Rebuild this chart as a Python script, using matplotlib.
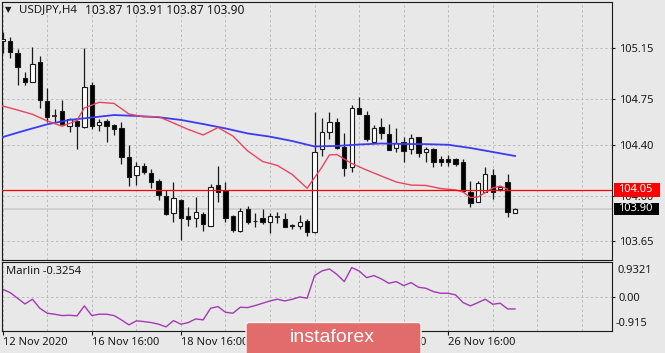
import matplotlib
matplotlib.use('Agg')
import matplotlib.pyplot as plt
from matplotlib.patches import FancyBboxPatch, Rectangle

W, H = 665, 353
BG = '#e8e8e8'
GRID = '#bcbcbc'
INK = '#1a1a1a'

plt.rcParams['font.family'] = ['Noto Sans', 'DejaVu Sans']
plt.rcParams['font.size'] = 8

# ---- data (H4 bars, oldest first) ----
opens = [105.202, 105.207, 105.109, 104.919, 104.888, 105.044, 104.741, 104.624, 104.663, 104.546,
         104.585, 104.534, 104.860, 104.554, 104.583, 104.555, 104.531, 104.301, 104.161, 104.233,
         104.181, 104.117, 104.002, 103.870, 103.972, 103.845, 103.827, 103.860, 103.769, 104.086,
         104.039, 103.845, 103.728, 103.897, 103.808, 103.827, 103.796, 103.839, 103.821, 103.772,
         103.769, 103.806, 103.718, 104.365, 104.495, 104.573, 104.383, 104.228, 104.686, 104.629,
         104.422, 104.538, 104.479, 104.371, 104.417, 104.363, 104.456, 104.344, 104.369, 104.285,
         104.285, 104.285, 104.262, 104.033, 103.956, 104.033, 104.163, 104.054, 104.107, 103.870]
highs = [105.277, 105.238, 105.140, 104.961, 105.155, 105.090, 104.837, 104.674, 104.746, 104.608,
         104.591, 105.148, 104.883, 104.601, 104.601, 104.557, 104.577, 104.396, 104.267, 104.254,
         104.207, 104.130, 104.047, 104.111, 103.974, 103.917, 103.990, 103.873, 104.093, 104.233,
         104.107, 103.852, 103.909, 103.922, 103.866, 103.897, 103.870, 103.878, 103.870, 103.783,
         103.852, 103.819, 104.655, 104.604, 104.655, 104.604, 104.492, 104.707, 104.767, 104.660,
         104.552, 104.608, 104.559, 104.526, 104.456, 104.482, 104.461, 104.383, 104.371, 104.313,
         104.319, 104.293, 104.285, 104.119, 104.119, 104.228, 104.207, 104.078, 104.171, 103.910]
lows = [105.109, 105.075, 104.862, 104.862, 104.888, 104.681, 104.573, 104.577, 104.555, 104.495,
        104.365, 104.530, 104.521, 104.505, 104.422, 104.474, 104.246, 104.080, 104.086, 104.169,
        104.060, 103.969, 103.855, 103.796, 103.658, 103.769, 103.761, 103.728, 103.767, 103.956,
        103.800, 103.723, 103.723, 103.783, 103.761, 103.780, 103.710, 103.788, 103.759, 103.744,
        103.744, 103.692, 103.716, 104.313, 104.441, 104.369, 104.158, 104.189, 104.635, 104.430,
        104.417, 104.443, 104.355, 104.344, 104.267, 104.324, 104.305, 104.267, 104.228, 104.236,
        104.236, 104.236, 104.029, 103.917, 103.951, 104.029, 103.977, 104.041, 103.839, 103.870]
closes = [105.220, 105.117, 105.000, 104.883, 105.026, 104.746, 104.616, 104.620, 104.557, 104.601,
          104.546, 104.845, 104.544, 104.573, 104.546, 104.518, 104.305, 104.150, 104.236, 104.189,
          104.111, 104.008, 103.858, 103.982, 103.827, 103.821, 103.873, 103.780, 104.068, 104.034,
          103.827, 103.736, 103.883, 103.796, 103.803, 103.800, 103.845, 103.837, 103.761, 103.767,
          103.800, 103.723, 104.344, 104.500, 104.577, 104.371, 104.220, 104.681, 104.637, 104.441,
          104.526, 104.492, 104.357, 104.410, 104.350, 104.448, 104.337, 104.365, 104.267, 104.267,
          104.267, 104.246, 104.039, 103.948, 104.103, 104.169, 104.033, 104.068, 103.873, 103.900]

# fast (red) and slow (blue) moving averages, sampled at bar indices
ma_fast_bars = [0, 2, 4, 6, 8, 10, 11, 13, 15, 17, 19, 21, 23, 25, 27, 29, 31, 33, 35, 37, 39,
                41, 43, 44, 45, 47, 49, 51, 53, 55, 57, 59, 61, 62, 63, 64, 66, 67, 68]
ma_fast = [104.699, 104.668, 104.635, 104.583, 104.542, 104.587, 104.684, 104.728, 104.719,
           104.637, 104.616, 104.616, 104.567, 104.517, 104.474, 104.532, 104.466, 104.350,
           104.268, 104.237, 104.167, 104.060, 104.225, 104.319, 104.322, 104.253, 104.202,
           104.155, 104.109, 104.085, 104.082, 104.058, 104.047, 104.031, 103.988, 103.992,
           104.062, 104.078, 104.054]
ma_slow_bars = [0, 3, 6, 9, 12, 15, 18, 21, 24, 27, 30, 33, 36, 39, 42, 45, 48, 51, 54, 57,
                60, 63, 66, 69]
ma_slow = [104.458, 104.509, 104.557, 104.591, 104.610, 104.629, 104.622, 104.612, 104.591,
           104.559, 104.525, 104.486, 104.461, 104.427, 104.385, 104.389, 104.400, 104.408,
           104.404, 104.403, 104.398, 104.373, 104.342, 104.311]

marlin = [0.202, 0.113, -0.038, -0.190, -0.065, -0.306, -0.439, -0.466, -0.502, -0.493,
          -0.511, -0.243, -0.502, -0.466, -0.466, -0.502, -0.618, -0.751, -0.644, -0.662,
          -0.689, -0.733, -0.805, -0.636, -0.733, -0.689, -0.591, -0.618, -0.306, -0.261,
          -0.413, -0.439, -0.279, -0.288, -0.234, -0.172, -0.110, -0.065, -0.110, -0.065,
          -0.003, -0.038, 0.568, 0.693, 0.746, 0.603, 0.407, 0.782, 0.693, 0.514,
          0.568, 0.479, 0.363, 0.407, 0.300, 0.380, 0.256, 0.229, 0.140, 0.095,
          0.095, 0.051, -0.154, -0.243, -0.154, -0.065, -0.199, -0.172, -0.324, -0.3254]

date_bars = [0, 12, 24, 36, 48, 60]
date_labels = ['12 Nov 2020', '16 Nov 16:00', '18 Nov 16:00', '20 Nov 16:00',
               '24 Nov 16:00', '26 Nov 16:00']
grid_bars = [6, 18, 30, 42, 54, 66, 72, 78]
price_ticks = [103.65, 104.00, 104.40, 104.75, 105.15]
price_labels = ['103.65', '104.00', '104.40', '104.75', '105.15']
alert_level = 104.05
bid = 103.90
marlin_range = (-0.915, 0.9321)


def px_box(x0, y0, x1, y1):
    return [x0 / W, 1 - y1 / H, (x1 - x0) / W, (y1 - y0) / H]


fig = plt.figure(figsize=(W / 100, H / 100), dpi=100, facecolor=BG)
ax = fig.add_axes(px_box(2, 2, 612, 260), facecolor=BG)
axm = fig.add_axes(px_box(2, 262, 612, 331), facecolor=BG, sharex=ax)

dash = (0, (2.5, 2.5))
for a in (ax, axm):
    for s in a.spines.values():
        s.set_color(INK)
        s.set_linewidth(0.8)
    a.set_xticks(date_bars)
    a.set_xticks(grid_bars, minor=True)
    a.grid(True, which='both', axis='x', color=GRID, linestyle=dash, linewidth=0.7)
    a.set_axisbelow(True)

ax.set_xlim(-0.094, 82.06)
ax.set_ylim(103.503, 105.507)
ax.yaxis.tick_right()
ax.set_yticks(price_ticks, price_labels)
ax.grid(True, axis='y', color=GRID, linestyle=dash, linewidth=0.7)
ax.tick_params(axis='y', length=2, pad=3, colors=INK, labelsize=8, width=0.8)
ax.tick_params(axis='x', which='both', length=0, labelbottom=False)

# price lines
ax.axhline(bid, color='#c9c9c9', lw=1.1, zorder=1)

# candles
for i, (o, h, l, c) in enumerate(zip(opens, highs, lows, closes)):
    ax.vlines(i, l, h, color=INK, lw=0.9, zorder=2)
    if abs(c - o) < 0.005:
        ax.hlines((o + c) / 2, i - 0.32, i + 0.32, color=INK, lw=1.2, zorder=3)
    else:
        ax.bar(i, abs(c - o), bottom=min(o, c), width=0.58,
               color='white' if c > o else 'black', edgecolor=INK, linewidth=0.8, zorder=3)

ax.plot(ma_slow_bars, ma_slow, color='#3b3bf5', lw=1.3, zorder=4)
ax.plot(ma_fast_bars, ma_fast, color='#e8455f', lw=1.0, zorder=4)
ax.axhline(alert_level, color='#ff0000', lw=0.9, zorder=5)

# Marlin oscillator
axm.set_ylim(*marlin_range)
axm.plot(range(len(marlin)), marlin, color='#a33ab3', lw=1.0)
axm.yaxis.tick_right()
axm.set_yticks([0.0], ['0.00'])
axm.grid(True, axis='y', color=GRID, linestyle=dash, linewidth=0.7)
axm.tick_params(axis='y', length=2, pad=3, colors=INK, labelsize=8, width=0.8)
axm.set_xticks(date_bars, date_labels)
axm.tick_params(axis='x', which='major', length=3, width=0.8, pad=1.5, colors=INK, labelsize=8)
axm.tick_params(axis='x', which='minor', length=0)
for lab in axm.get_xticklabels():
    lab.set_horizontalalignment('left')

# overlay in pixel coordinates for labels and the watermark
ov = fig.add_axes([0, 0, 1, 1])
ov.set_xlim(0, W)
ov.set_ylim(H, 0)
ov.axis('off')

ov.text(5, 10, '\u25bc', fontsize=6, color=INK, va='center', ha='left', family='DejaVu Sans')
ov.text(19, 10, 'USDJPY,H4', color=INK, va='center', ha='left', fontsize=8.3)
ov.text(85, 10, '103.87 103.91 103.87 103.90', color=INK, va='center', ha='left', fontsize=8.6)
ov.text(6, 272, 'Marlin -0.3254', color=INK, va='center', ha='left')
ov.text(618, 270.5, '0.9321', color=INK, va='center', ha='left')
ov.text(616, 324, '-0.915', color=INK, va='center', ha='left')

ov.add_patch(Rectangle((614, 183), 46, 14, color='#ff0000', lw=0))
ov.text(618.5, 190, f'{alert_level:.2f}', color='white', va='center', ha='left')
ov.add_patch(Rectangle((614, 203), 45, 11.5, color='#000000', lw=0))
ov.text(618.5, 208.8, f'{bid:.2f}', color='white', va='center', ha='left')

ov.add_patch(FancyBboxPatch((246, 322.5), 175, 40, boxstyle='round,pad=0,rounding_size=3',
                            facecolor='#e26b6b', edgecolor='#f3f3f3', lw=1.0))
ov.text(290, 337, 'instaforex', color='white', fontsize=14, va='center', ha='left',
        family='Liberation Sans')

fig.savefig('out.png', dpi=100, facecolor=BG)
